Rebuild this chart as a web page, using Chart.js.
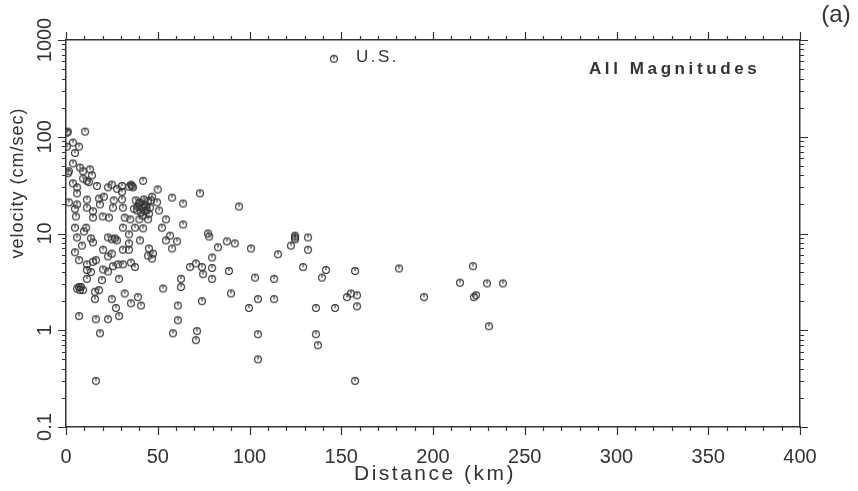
<!DOCTYPE html>
<html>
<head>
<meta charset="utf-8">
<script src="https://cdn.jsdelivr.net/npm/chart.js@4.4.1/dist/chart.umd.min.js"></script>
<style>
html, body { margin: 0; padding: 0; background: #fff; }
</style>
</head>
<body>
<canvas id="myChart" width="858" height="491"></canvas>
<script>
// distance (km) / velocity (cm/sec)
const distance = [
  0.5, 1, 10.4, 3.8, 7.1, 0.5, 4.9, 3.8, 7.6, 13.1, 9.3, 1.6, 1.1, 14.2, 9.3, 11.4, 12.5, 3.8, 6, 16.9,
  22.9, 25, 27.8, 30.5, 30.5, 36, 35.4, 36.5, 34.3, 42, 50, 73, 6, 1.6, 6, 11.4, 18, 18.5, 20.7, 26,
  30.5, 25.6, 31, 50.7, 57.8, 63.8, 4.9, 11.4, 14.7, 14.7, 5.4, 20, 23.4, 32, 35, 40, 44.7, 54.5, 63.8, 4.9,
  11, 31, 37.6, 42, 38, 40.3, 42.5, 44.7, 46.3, 39, 41.4, 43.6, 45.8, 38.7, 40.9, 43, 45.2, 42, 39.8, 44,
  46.9, 37, 42.5, 49.6, 9.8, 6, 13.6, 14.7, 8.7, 22.9, 25, 26.7, 27.8, 34.3, 34.3, 40.3, 20.2, 4.9, 25, 22.9,
  31, 34.3, 45.2, 44.7, 47.4, 46.9, 52.3, 56.7, 54.5, 60.5, 57.8, 7.1, 11.4, 14.7, 16.3, 11.4, 13.6, 11.4, 20.2, 22.9,
  25.6, 28.3, 31, 35.4, 37.6, 28.9, 19.6, 6, 7.1, 8.2, 9.3, 7.6, 15.8, 18, 15.8, 25, 32, 39.2, 35.4, 40.9,
  27.2, 28.9, 7.1, 16.3, 22.9, 18.5, 58.3, 52.9, 62.7, 62.7, 67.6, 70.8, 61, 61, 71.4, 70.8, 16.3, 94.3, 77.4, 78,
  87.7, 92, 82.8, 100.8, 79.6, 74.1, 79.6, 88.8, 74.7, 79.6, 74.1, 89.9, 99.7, 104.6, 113.4, 103, 113.4, 104.6, 104.6, 115.5,
  122.6, 124.8, 124.8, 124.8, 131.9, 131.9, 129.2, 141.7, 139.5, 157.5, 136.2, 146.6, 153.1, 155.3, 158.6, 158.6, 136.2, 137.3, 157.5, 181.5,
  195.1, 214.7, 221.8, 229.4, 238.1, 222.3, 223.4, 230.5
];
const velocity = [
  110, 113, 113, 87, 79, 79, 68, 53, 48, 46, 44, 44, 42, 40, 37, 35, 34, 33, 30, 31,
  30, 32, 29, 31, 27, 31, 32, 30, 30.5, 35, 28.5, 26, 26, 21, 20, 22.4, 23, 20, 24, 22,
  22.5, 18.5, 18.5, 17.3, 23.5, 20.4, 18, 18.5, 17, 14.6, 15, 15, 14.6, 14.6, 14, 14, 14, 14, 12.4, 11.5,
  11.5, 11.5, 11.5, 11.3, 22, 21, 22.5, 21.5, 22, 19, 18.5, 19, 18.5, 17.3, 16.5, 17, 16, 15.3, 20.5, 17.5,
  24, 18, 20, 21, 10.5, 9.1, 8.9, 8.1, 7.5, 9.1, 8.7, 8.9, 8.5, 9.8, 7.9, 8.5, 6.8, 6.4, 6.2, 5.8,
  6.8, 6.8, 7, 5.9, 6.2, 5.5, 11.5, 9.5, 8.5, 8.3, 7, 5.3, 4.8, 5.1, 5.3, 4.2, 4.0, 3.4, 4.25, 4.05,
  4.6, 4.8, 4.8, 5.0, 4.5, 3.4, 3.3, 2.7, 2.8, 2.8, 2.6, 2.6, 2.5, 2.6, 2.1, 2.1, 2.4, 2.2, 1.9, 1.8,
  1.7, 1.4, 1.4, 1.3, 1.3, 0.93, 0.93, 2.7, 3.4, 2.8, 4.5, 4.9, 1.8, 1.27, 0.98, 0.79, 0.3, 19, 10, 9.3,
  8.3, 7.9, 7.2, 7, 5.65, 4.5, 4.4, 4.1, 3.8, 3.4, 2.0, 2.4, 1.7, 2.1, 2.1, 3.5, 3.4, 0.91, 0.5, 6.1,
  7.5, 9.5, 9.1, 8.7, 9.1, 6.8, 4.5, 4.2, 3.5, 4.1, 1.7, 1.7, 2.2, 2.4, 2.3, 1.77, 0.91, 0.7, 0.3, 4.35,
  2.2, 3.1, 4.6, 3.05, 3.05, 2.2, 2.3, 1.1
];
const xTickLabels = [0, 50, 100, 150, 200, 250, 300, 350, 400];
const yTickLabels = [0.1, 1, 10, 100, 1000];
const legendPoint = [146, 640];
const noteAt = [285, 500];

const ink = '#333333';
const fontName = '"Liberation Sans", Arial, sans-serif';

// open circle with a small mark inside, like the plotted symbol
const sym = document.createElement('canvas');
sym.width = 10; sym.height = 10;
const sc = sym.getContext('2d');
sc.strokeStyle = '#333';
sc.lineWidth = 1.15;
sc.beginPath(); sc.arc(5, 5, 3.4, 0, Math.PI * 2); sc.stroke();
sc.beginPath(); sc.moveTo(5, 2.2); sc.lineTo(5, 5.2); sc.stroke();

const points = distance.map((d, i) => ({ x: d, y: velocity[i] }));

const decor = {
  id: 'decor',
  afterDraw(chart) {
    const c = chart.ctx;
    const a = chart.chartArea;
    const sx = chart.scales.x, sy = chart.scales.y;
    c.save();
    c.strokeStyle = ink;
    c.lineWidth = 1.2;
    // x ticks, bottom and top
    for (let i = 0; i < xTickLabels.length; i++) {
      const v0 = xTickLabels[i];
      const step = i < xTickLabels.length - 1 ? (xTickLabels[i + 1] - v0) / 5 : 0;
      const n = i < xTickLabels.length - 1 ? 5 : 1;
      for (let k = 0; k < n; k++) {
        const px = Math.round(sx.getPixelForValue(v0 + k * step)) + 0.5;
        const len = k === 0 ? 8 : 4;
        c.beginPath();
        c.moveTo(px, a.bottom); c.lineTo(px, a.bottom + len);
        c.moveTo(px, a.top); c.lineTo(px, a.top - len);
        c.stroke();
      }
    }
    // y ticks, left and right
    for (let i = 0; i < yTickLabels.length; i++) {
      const d = yTickLabels[i];
      const n = i < yTickLabels.length - 1 ? 9 : 1;
      for (let k = 1; k <= n; k++) {
        const py = Math.round(sy.getPixelForValue(k * d)) + 0.5;
        const len = k === 1 ? 8 : 4;
        c.beginPath();
        c.moveTo(a.left, py); c.lineTo(a.left - len, py);
        c.moveTo(a.right, py); c.lineTo(a.right + len, py);
        c.stroke();
      }
    }
    // y tick labels, turned
    c.fillStyle = ink;
    c.font = '20px ' + fontName;
    c.textAlign = 'center';
    c.textBaseline = 'middle';
    yTickLabels.forEach(v => {
      c.save();
      c.translate(a.left - 21, sy.getPixelForValue(v));
      c.rotate(-Math.PI / 2);
      c.fillText(String(v), 0, 0);
      c.restore();
    });
    // axis titles
    c.letterSpacing = '1px';
    c.font = '18px ' + fontName;
    c.save();
    c.translate(18, 183);
    c.rotate(-Math.PI / 2);
    c.fillText('velocity (cm/sec)', 0, 0);
    c.restore();
    c.letterSpacing = '2.5px';
    c.font = '21px ' + fontName;
    c.fillText('Distance (km)', (a.left + a.right) / 2 + 2, 474);
    c.letterSpacing = '0px';
    c.font = '24px ' + fontName;
    c.fillText('(a)', 836, 15);
    // notes inside the frame
    c.textAlign = 'left';
    c.letterSpacing = '3.6px';
    c.font = 'bold 17px ' + fontName;
    c.fillText('All Magnitudes', sx.getPixelForValue(noteAt[0]), sy.getPixelForValue(noteAt[1]));
    c.letterSpacing = '2.5px';
    c.font = '17px ' + fontName;
    const lx = sx.getPixelForValue(legendPoint[0]), ly = sy.getPixelForValue(legendPoint[1]);
    c.drawImage(sym, lx - 5, ly - 5);
    c.fillText('U.S.', lx + 22, ly - 1);
    c.restore();
  }
};

const border = { display: true, color: ink, width: 1.5 };

new Chart(document.getElementById('myChart'), {
  type: 'scatter',
  data: {
    datasets: [{
      label: 'U.S.',
      data: points,
      pointStyle: sym,
      pointRadius: 4,
      pointHoverRadius: 4
    }]
  },
  options: {
    responsive: false,
    animation: false,
    events: [],
    layout: { padding: 0 },
    plugins: { legend: { display: false }, tooltip: { enabled: false } },
    scales: {
      x: {
        type: 'linear', position: 'bottom', min: 0, max: 400,
        grid: { display: false }, border: border,
        ticks: {
          stepSize: 50, autoSkip: false, padding: 10, color: ink,
          font: { family: fontName, size: 20 }
        },
        afterFit(s) { s.height = 64; }
      },
      x2: {
        type: 'linear', position: 'top', min: 0, max: 400,
        grid: { display: false }, border: border, ticks: { display: false },
        afterFit(s) { s.height = 40; }
      },
      y: {
        type: 'logarithmic', position: 'left', min: 0.1, max: 1000,
        grid: { display: false }, border: border, ticks: { display: false },
        afterFit(s) { s.width = 66; }
      },
      y2: {
        type: 'logarithmic', position: 'right', min: 0.1, max: 1000,
        grid: { display: false }, border: border, ticks: { display: false },
        afterFit(s) { s.width = 58; }
      }
    }
  },
  plugins: [decor]
});
</script>
</body>
</html>
